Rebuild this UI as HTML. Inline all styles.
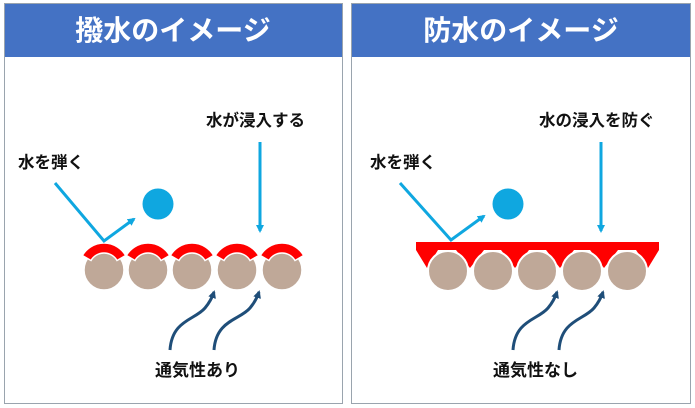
<!DOCTYPE html>
<html><head><meta charset="utf-8"><style>
html,body{margin:0;padding:0;background:#fff;width:695px;height:408px;overflow:hidden}
text{font-family:"Liberation Sans","Noto Sans CJK JP",sans-serif;font-weight:bold}
</style></head><body>
<svg width="695" height="408" viewBox="0 0 695 408" xmlns="http://www.w3.org/2000/svg">
<defs>
<marker id="ab" markerWidth="8" markerHeight="8" refX="6" refY="4" orient="auto" markerUnits="userSpaceOnUse"><path d="M0,0 L8,4 L0,8 Z" fill="#0FA7E0"/></marker>
<marker id="ad" markerWidth="8" markerHeight="8" refX="6" refY="4" orient="auto" markerUnits="userSpaceOnUse"><path d="M0,0 L8,4 L0,8 Z" fill="#1F4E79"/></marker>
<g id="cap"><path d="M-21.65,-12.5 A25,25 0 0 1 21.65,-12.5 L13,-7.5 A15,15 0 0 0 -13,-7.5 Z" fill="#FF0000" stroke="#fff" stroke-width="1.5"/></g>
</defs>
<!-- Left panel -->
<rect x="4.5" y="3.5" width="338" height="400" fill="#fff" stroke="#9AA4AE" stroke-width="1"/>
<rect x="5" y="4" width="337" height="53" fill="#4472C4"/>
<text x="173" y="40" font-size="28" fill="#fff" text-anchor="middle">撥水のイメージ</text>
<text x="18" y="168" font-size="16.5" fill="#111">水を弾く</text>
<text x="206" y="126" font-size="16.5" fill="#111">水が浸入する</text>
<g fill="#BFA898" stroke="#fff" stroke-width="1.5">
<circle cx="104" cy="270" r="20"/><circle cx="148" cy="270" r="20"/><circle cx="192" cy="270" r="20"/><circle cx="237" cy="270" r="20"/><circle cx="282" cy="270" r="20"/>
</g>
<use href="#cap" x="104" y="268"/><use href="#cap" x="148" y="268"/><use href="#cap" x="192" y="268"/><use href="#cap" x="237" y="268"/><use href="#cap" x="282" y="268"/>
<polyline points="55,183 104,241 134,219" fill="none" stroke="#0FA7E0" stroke-width="3" marker-end="url(#ab)"/>
<circle cx="158" cy="204" r="15.5" fill="#0FA7E0"/>
<line x1="260" y1="142" x2="260" y2="231" stroke="#0FA7E0" stroke-width="3" marker-end="url(#ab)"/>
<path d="M170,350 C172,320 195,320 205,308 C210,302 212,298 214,292" fill="none" stroke="#1F4E79" stroke-width="3" marker-end="url(#ad)"/>
<path d="M214,350 C216,320 240,320 250,308 C255,302 257,298 259,292" fill="none" stroke="#1F4E79" stroke-width="3" marker-end="url(#ad)"/>
<text x="155" y="376" font-size="17" fill="#111">通気性あり</text>
<!-- Right panel -->
<rect x="351.5" y="3.5" width="339" height="400" fill="#fff" stroke="#9AA4AE" stroke-width="1"/>
<rect x="352" y="4" width="338" height="53" fill="#4472C4"/>
<text x="521" y="40" font-size="28" fill="#fff" text-anchor="middle">防水のイメージ</text>
<text x="370" y="168" font-size="16.5" fill="#111">水を弾く</text>
<text x="539" y="126" font-size="16.5" fill="#111">水の浸入を防ぐ</text>
<polygon points="416,242 659,242 659,250 648,268 636,250 618,250 604,268 590,250 574,250 560,268 546,250 529,250 515,268 501,250 484,250 470,268 456,250 438,250 427,268 416,250" fill="#FF0000"/>
<g fill="#BFA898" stroke="#fff" stroke-width="2">
<circle cx="448" cy="271" r="20"/><circle cx="493" cy="271" r="20"/><circle cx="537" cy="271" r="20"/><circle cx="582" cy="271" r="20"/><circle cx="627" cy="271" r="20"/>
</g>
<polyline points="400,183 451,240 484,216" fill="none" stroke="#0FA7E0" stroke-width="3" marker-end="url(#ab)"/>
<circle cx="508" cy="204" r="15.5" fill="#0FA7E0"/>
<line x1="601" y1="142" x2="601" y2="231" stroke="#0FA7E0" stroke-width="3" marker-end="url(#ab)"/>
<path d="M513,350 C515,320 538,320 548,308 C553,302 555,298 557,292" fill="none" stroke="#1F4E79" stroke-width="3" marker-end="url(#ad)"/>
<path d="M559,350 C561,320 584,320 594,308 C599,302 601,298 603,292" fill="none" stroke="#1F4E79" stroke-width="3" marker-end="url(#ad)"/>
<text x="493" y="376" font-size="17" fill="#111">通気性なし</text>
</svg>
</body></html>
